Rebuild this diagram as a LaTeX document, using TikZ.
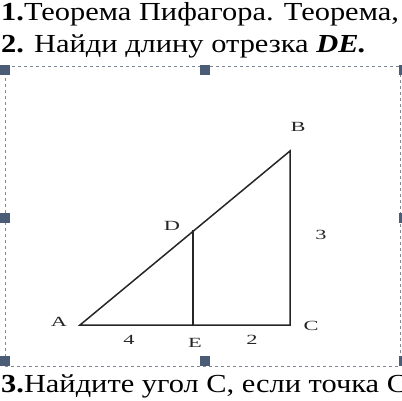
\documentclass[tikz,border=0pt]{standalone}
\usepackage{fontspec}
\setmainfont{Liberation Serif}
\usepackage{xcolor}
\definecolor{framegray}{RGB}{125,135,150}
\definecolor{handle}{RGB}{75,92,118}

\tikzset{
  task/.style={anchor=base west, inner sep=0pt, font=\fontsize{26}{28}\selectfont},
  vlabel/.style={inner sep=1pt, text=black!85, font=\fontsize{14}{16}\selectfont},
  side/.style={line width=1.5pt, black!85}
}
\newcommand{\wide}[2]{\scalebox{#1}[1]{#2}}

\begin{document}
\begin{tikzpicture}[x=1pt, y=-1pt]
  \useasboundingbox (0, 0) rectangle (402, 400);
  \clip (0, 0) rectangle (402, 400);

  % text lines
  \node[task] (t1) at (1, 20) {\wide{1.17}{\textbf{1.}Теорема Пифагора. Теорема,}};
  \node[task] (t2) at (1, 52) {\wide{1.17}{\textbf{2.} Найди длину отрезка \textbf{\textit{DE.}}}};
  \node[task] (t3) at (1, 392) {\wide{1.17}{\textbf{3.}Найдите угол С, если точка С}};

  % selection frame
  \draw[framegray, dashed, line width=0.9pt] (5, 66) rectangle (400, 366);
  \foreach \x/\y in {5/70, 205/70, 404/70, 5/218, 404/218, 5/361, 205/361, 404/361} {
      \fill[handle] (\x-5, \y-5) rectangle (\x+5, \y+5);
    }

  % triangle
  \coordinate (A) at (80, 325);
  \coordinate (C) at (290, 325);
  \coordinate (B) at (290, 151);
  \coordinate (D) at (193, 230);
  \coordinate (E) at (193, 325);

  \draw[side] (A) -- (C) -- (B) -- cycle;
  \draw[side] (D) -- (E);

  \node[vlabel] (lA) at (59, 322) {\wide{1.6}{A}};
  \node[vlabel] (lB) at (298, 127) {\wide{1.6}{B}};
  \node[vlabel] (lC) at (311, 326) {\wide{1.6}{C}};
  \node[vlabel] (lD) at (172, 226) {\wide{1.6}{D}};
  \node[vlabel] (lE) at (195, 343) {\wide{1.6}{E}};
  \node[vlabel] (l4) at (129, 340) {\wide{1.6}{4}};
  \node[vlabel] (l2) at (252, 340) {\wide{1.6}{2}};
  \node[vlabel] (l3) at (321, 235) {\wide{1.6}{3}};
\end{tikzpicture}
\end{document}
